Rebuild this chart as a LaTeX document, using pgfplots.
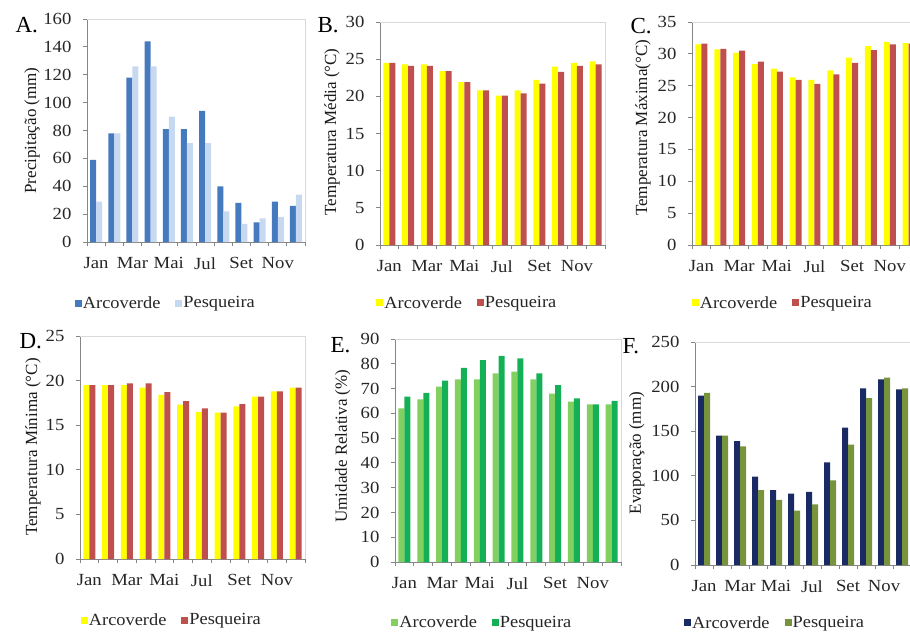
\documentclass[border=0pt]{standalone}
\usepackage{fontspec}
\setmainfont{Liberation Serif}
\usepackage{graphicx}
\usepackage{pgfplots}
\pgfplotsset{compat=1.18}

\definecolor{arcA}{RGB}{70,122,190}
\definecolor{pesA}{RGB}{198,217,241}
\definecolor{arcY}{RGB}{255,255,0}
\definecolor{pesR}{RGB}{192,80,77}
\definecolor{arcG}{RGB}{130,208,95}
\definecolor{pesG}{RGB}{20,176,85}
\definecolor{arcN}{RGB}{25,42,100}
\definecolor{pesO}{RGB}{119,147,60}
\definecolor{axgray}{RGB}{134,134,134}
\definecolor{boxgray}{RGB}{217,217,217}

\newcommand{\wide}[1]{\scalebox{1.08}[1]{#1}}

\pgfplotsset{
  panel/.style={
    scale only axis, height=223pt,
    axis lines=left, axis line style={-, draw=axgray, line width=0.9pt},
    ybar=0pt, bar width=6pt,
    xmin=-0.5, xmax=11.5, ymin=0,
    xtick={0,2,4,6,8,10}, xticklabels={Jan,Mar,Mai,Jul,Set,Nov},
    minor xtick={-0.5,0.5,...,11.5},
    every major x tick/.style={draw=none},
    tick align=outside, major tick length=4pt, minor tick length=4pt,
    tick style={draw=axgray, line width=0.9pt},
    /pgf/number format/assume math mode=true,
    tick label style={font=\fontsize{17}{19}\selectfont, text=black!85, xscale=1.1},
    xticklabel style={yshift=-8pt},
    yticklabel style={xshift=-7pt},
    label style={font=\fontsize{17}{19}\selectfont, text=black!90},
    legend columns=2,
    legend style={draw=none, fill=none, anchor=west,
      font=\fontsize{17}{19}\selectfont, text=black!85,
      nodes={inner xsep=1pt},
      /tikz/every even column/.append style={column sep=14pt}},
    legend image code/.code={\fill[##1] (0pt,-3.5pt) rectangle (7pt,3.5pt);},
    every axis plot/.append style={draw=none},
    extra description/.code={
      \draw[boxgray, line width=0.9pt] (rel axis cs:0,1) -- (rel axis cs:1,1) -- (rel axis cs:1,0);
    },
  },
}

\begin{document}
\begin{tikzpicture}
\useasboundingbox (0pt,0pt) rectangle (910pt,-633pt);

% A. Precipitation
\begin{axis}[panel, at={(87pt,-242pt)}, anchor=south west, width=218pt,
  ymax=160, ytick={0,20,...,160},
  ylabel={Precipitação (mm)},
  ylabel style={at={(axis description cs:-0.252,0.5)}, anchor=center},
  legend style={at={(axis description cs:-0.07,-0.274)}}]
\addplot[fill=arcA] coordinates {(0,59) (1,78) (2,118) (3,144) (4,81) (5,81) (6,94) (7,40) (8,28) (9,14) (10,29) (11,26)};
\addplot[fill=pesA] coordinates {(0,29) (1,78) (2,126) (3,126) (4,90) (5,71) (6,71) (7,22) (8,13) (9,17) (10,18) (11,34)};
\legend{\wide{Arcoverde},\wide{Pesqueira}}
\end{axis}
\node[anchor=base west, font=\fontsize{23}{25}\selectfont] at (12pt,-32pt) {A.};

% B. Mean temperature
\begin{axis}[panel, at={(380pt,-245pt)}, anchor=south west, width=225pt,
  ymax=30, ytick={0,5,...,30},
  ylabel={Temperatura Média (°C)},
  ylabel style={at={(axis description cs:-0.213,0.507)}, anchor=center},
  legend style={at={(axis description cs:-0.03,-0.26)}}]
\addplot[fill=arcY] coordinates {(0,24.5) (1,24.3) (2,24.3) (3,23.4) (4,21.9) (5,20.8) (6,20.1) (7,20.8) (8,22.2) (9,24.0) (10,24.5) (11,24.7)};
\addplot[fill=pesR] coordinates {(0,24.5) (1,24.1) (2,24.1) (3,23.4) (4,21.9) (5,20.8) (6,20.1) (7,20.4) (8,21.7) (9,23.3) (10,24.1) (11,24.3)};
\legend{\wide{Arcoverde},\wide{Pesqueira}}
\end{axis}
\node[anchor=base west, font=\fontsize{23}{25}\selectfont] at (314pt,-32pt) {B.};

% C. Maximum temperature
\begin{axis}[panel, at={(692pt,-245pt)}, anchor=south west, width=226pt,
  ymax=35, ytick={0,5,...,35},
  ylabel={Temperatura Máxima(°C)},
  ylabel style={at={(axis description cs:-0.217,0.525)}, anchor=center},
  legend style={at={(axis description cs:-0.015,-0.26)}}]
\addplot[fill=arcY] coordinates {(0,31.5) (1,30.7) (2,30.2) (3,28.4) (4,27.7) (5,26.3) (6,25.9) (7,27.4) (8,29.4) (9,31.2) (10,31.9) (11,31.7)};
\addplot[fill=pesR] coordinates {(0,31.6) (1,30.8) (2,30.5) (3,28.8) (4,27.2) (5,25.9) (6,25.3) (7,26.8) (8,28.6) (9,30.6) (10,31.5) (11,31.6)};
\legend{\wide{Arcoverde},\wide{Pesqueira}}
\end{axis}
\node[anchor=base west, font=\fontsize{23}{25}\selectfont] at (627pt,-33pt) {C.};

% D. Minimum temperature
\begin{axis}[panel, at={(80pt,-559pt)}, anchor=south west, width=225pt,
  ymax=25, ytick={0,5,...,25},
  ylabel={Temperatura Mínima (°C)},
  ylabel style={at={(axis description cs:-0.209,0.502)}, anchor=center},
  legend style={at={(axis description cs:-0.01,-0.274)}}]
\addplot[fill=arcY] coordinates {(0,19.5) (1,19.5) (2,19.5) (3,19.2) (4,18.4) (5,17.3) (6,16.5) (7,16.4) (8,17.1) (9,18.2) (10,18.8) (11,19.2)};
\addplot[fill=pesR] coordinates {(0,19.5) (1,19.5) (2,19.7) (3,19.7) (4,18.7) (5,17.7) (6,16.9) (7,16.4) (8,17.35) (9,18.2) (10,18.8) (11,19.2)};
\legend{\wide{Arcoverde},\wide{Pesqueira}}
\end{axis}
\node[anchor=base west, font=\fontsize{23}{25}\selectfont] at (16pt,-348pt) {D.};

% E. Relative humidity
\begin{axis}[panel, at={(395pt,-562pt)}, anchor=south west, width=226pt,
  ymax=90, ytick={0,10,...,90},
  ylabel={Umidade Relativa (\%)},
  ylabel style={at={(axis description cs:-0.231,0.52)}, anchor=center},
  legend style={at={(axis description cs:-0.03,-0.27)}}]
\addplot[fill=arcG] coordinates {(0,62) (1,65.6) (2,70.8) (3,73.7) (4,73.7) (5,76.1) (6,76.8) (7,73.7) (8,68) (9,64.7) (10,63.6) (11,63.6)};
\addplot[fill=pesG] coordinates {(0,66.7) (1,68.3) (2,73.2) (3,78.4) (4,81.5) (5,83.2) (6,82.2) (7,76.1) (8,71.4) (9,66) (10,63.6) (11,65)};
\legend{\wide{Arcoverde},\wide{Pesqueira}}
\end{axis}
\node[anchor=base west, font=\fontsize{23}{25}\selectfont] at (327pt,-352pt) {E.};

% F. Evaporation
\begin{axis}[panel, at={(695pt,-565pt)}, anchor=south west, width=216pt,
  ymax=250, ytick={0,50,...,250},
  ylabel={Evaporação (mm)},
  ylabel style={at={(axis description cs:-0.269,0.502)}, anchor=center},
  legend style={at={(axis description cs:-0.065,-0.26)}}]
\addplot[fill=arcN] coordinates {(0,190) (1,145) (2,139) (3,99) (4,84) (5,80) (6,82) (7,115) (8,154) (9,198) (10,208) (11,197)};
\addplot[fill=pesO] coordinates {(0,193) (1,145) (2,133) (3,84) (4,73) (5,61) (6,68) (7,95) (8,135) (9,187) (10,210) (11,198)};
\legend{\wide{Arcoverde},\wide{Pesqueira}}
\end{axis}
\node[anchor=base west, font=\fontsize{23}{25}\selectfont] at (619pt,-353pt) {F.};
\end{tikzpicture}
\end{document}
